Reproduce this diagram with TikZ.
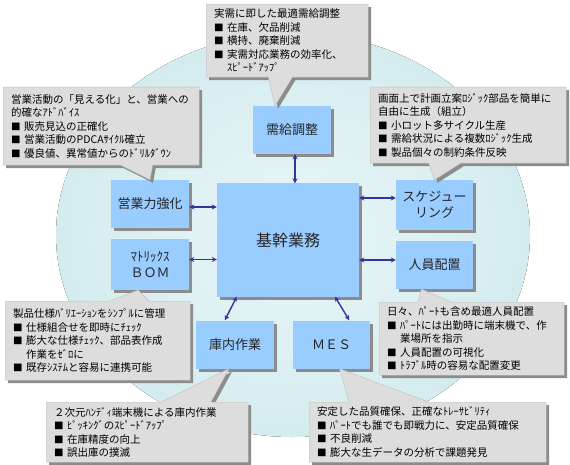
\documentclass[tikz,border=0pt]{standalone}
\usepackage{fontspec}
\setmainfont{Noto Sans CJK JP}
\usetikzlibrary{shapes.callouts, shadows, calc, arrows.meta}

\definecolor{ringfill}{RGB}{212,236,239}
\definecolor{ringcore}{RGB}{234,246,247}
\definecolor{boxblue}{RGB}{153,204,255}
\definecolor{notegray}{RGB}{221,221,221}
\definecolor{linknavy}{RGB}{51,51,153}

\newcommand{\bul}{{\fontsize{9.5}{9.5}\selectfont ■}\ }
\newcommand{\cont}{\hspace*{13pt}}

\begin{document}
\begin{tikzpicture}[x=1pt, y=-1pt,
  func/.style={fill=boxblue, minimum width=78pt, minimum height=48pt, align=center,
    font=\fontsize{13}{16}\selectfont, text=black!85,
    drop shadow={shadow xshift=3pt, shadow yshift=-3pt, fill=black!45, opacity=1}},
  core/.style={func, minimum width=142pt, minimum height=113pt, font=\fontsize{16}{18}\selectfont},
  note/.style={rectangle callout, fill=notegray, draw=gray!50, line width=0.4pt,
    anchor=north west, align=left, inner xsep=8pt, inner ysep=4pt,
    font=\fontsize{10.5}{13.5}\selectfont,
    drop shadow={shadow xshift=3pt, shadow yshift=-3pt, fill=black!45, opacity=1}},
  link/.style={linknavy, line width=1.4pt, {Stealth[length=5pt,width=5pt]}-{Stealth[length=5pt,width=5pt]}}
]
\useasboundingbox (0,0) rectangle (570,465);

% background ring
\fill[inner color=ringcore, outer color=ringfill] (293,235) ellipse [x radius=237pt, y radius=202pt];

% functions
\node[core]  (kikan) at (288,240) {基幹業務};
\node[func]  (jukyu) at (292,130) {需給調整};
\node[func]  (eigyo) at (150,204) {営業力強化};
\node[func, minimum height=51pt] (bom) at (150,264.5) {ﾏﾄﾘｯｸｽ\\ＢＯＭ};
\node[func, minimum width=77pt, minimum height=50pt] (sched) at (434.5,205) {スケジュー\\リング};
\node[func, minimum width=77pt] (jinin) at (434.5,265) {人員配置};
\node[func]  (konai) at (235,344.5) {庫内作業};
\node[func, minimum width=77pt] (mes) at (331.5,344.5) {ＭＥＳ};

% links
\coordinate (j1) at ($(jukyu.south)+(3,0)$);
\draw[link] (j1) -- (j1 |- kikan.north);
\coordinate (e1) at ($(eigyo.east)+(0,3)$);
\draw[link] (e1) -- (e1 -| kikan.west);
\coordinate (b1) at ($(bom.east)+(0,-5)$);
\draw[link] (b1) -- (b1 -| kikan.west);
\coordinate (s1) at ($(sched.west)+(0,-7)$);
\draw[link] (s1) -- (s1 -| kikan.east);
\coordinate (p1) at ($(jinin.west)+(0,-5)$);
\draw[link] (p1) -- (p1 -| kikan.east);
\draw[link] ($(kikan.south west)!0.14!(kikan.south east)$) -- ($(konai.north west)!0.37!(konai.north east)$);
\draw[link] ($(kikan.south west)!0.83!(kikan.south east)$) -- ($(mes.north west)!0.73!(mes.north east)$);

% callouts
\node[note, text width=146pt, minimum height=73pt, callout pointer width=24pt,
  callout absolute pointer={($(jukyu.north)+(-17,0)$)}] (jukyunote) at (206,4)
  {実需に即した最適需給調整\\\bul 在庫、欠品削減\\\bul 横持、廃棄削減\\\bul 実需対応業務の効率化、\\\cont ｽﾋﾟｰﾄﾞｱｯﾌﾟ};
\node[note, text width=180pt, minimum height=78pt, callout pointer width=32pt,
  callout absolute pointer={(eigyo.north)}] (eigyonote) at (3,87)
  {営業活動の「見える化」と、営業への\\的確なｱﾄﾞﾊﾞｲｽ\\\bul 販売見込の正確化\\\bul 営業活動のPDCAｻｲｸﾙ確立\\\bul 優良値、異常値からのﾄﾞﾘﾙﾀﾞｳﾝ};
\node[note, text width=180pt, minimum height=76pt, callout pointer width=32pt,
  callout absolute pointer={(sched.north)}] (schednote) at (370,87)
  {画面上で計画立案ﾛｼﾞｯｸ部品を簡単に\\自由に生成（組立）\\\bul 小ロット多サイクル生産\\\bul 需給状況による複数ﾛｼﾞｯｸ生成\\\bul 製品個々の制約条件反映};
\node[note, text width=169pt, minimum height=79pt, callout pointer width=40pt,
  callout absolute pointer={($(bom.south)+(-12,0)$)}] (bomnote) at (5,301)
  {製品仕様ﾊﾞﾘｴｰｼｮﾝをｼﾝﾌﾟﾙに管理\\\bul 仕様組合せを即時にﾁｪｯｸ\\\bul 膨大な仕様ﾁｪｯｸ、部品表作成\\\cont 作業をｾﾞﾛに\\\bul 既存ｼｽﾃﾑと容易に連携可能};
\node[note, text width=169pt, minimum height=73pt, callout pointer width=34pt,
  callout absolute pointer={($(jinin.south)+(-13,0)$)}] (jininnote) at (379,302)
  {日々、ﾊﾟｰﾄも含め最適人員配置\\\bul ﾊﾟｰﾄには出勤時に端末機で、作\\\cont 業場所を指示\\\bul 人員配置の可視化\\\bul ﾄﾗﾌﾞﾙ時の容易な配置変更};
\node[note, text width=186pt, minimum height=60pt, callout pointer width=50pt,
  callout absolute pointer={($(konai.south)+(-6,0)$)}] (konainote) at (46,402)
  {２次元ﾊﾝﾃﾞｨ端末機による庫内作業\\\bul ﾋﾟｯｷﾝｸﾞのｽﾋﾟｰﾄﾞｱｯﾌﾟ\\\bul 在庫精度の向上\\\bul 誤出庫の撲滅};
\node[note, text width=221pt, minimum height=60pt, callout pointer width=80pt,
  callout absolute pointer={($(mes.south)+(8,0)$)}] (mesnote) at (309,402)
  {安定した品質確保、正確なﾄﾚｰｻﾋﾞﾘﾃｨ\\\bul ﾊﾟｰﾄでも誰でも即戦力に、安定品質確保\\\bul 不良削減\\\bul 膨大な生データの分析で課題発見};
\end{tikzpicture}
\end{document}
